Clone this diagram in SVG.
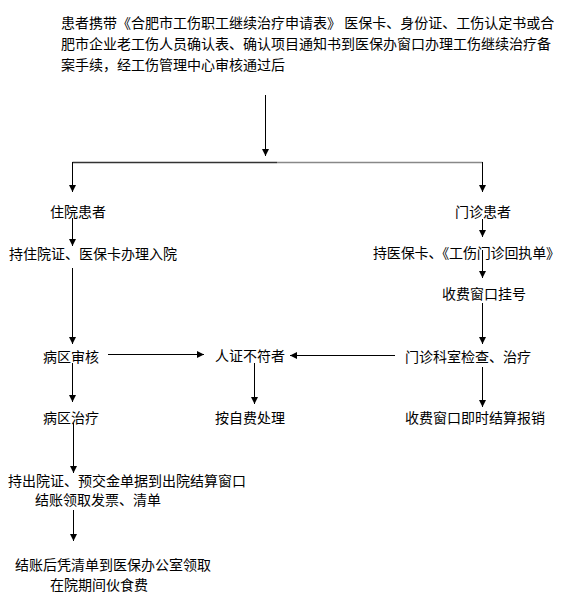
<svg xmlns="http://www.w3.org/2000/svg" width="571" height="601" viewBox="0 0 571 601">
<style>
text{font-family:"Noto Sans CJK SC","Noto Sans",sans-serif;font-size:14px;fill:#000}
.c line{stroke:#000;stroke-width:1;fill:none}
.c line.a{marker-end:url(#ah)}
</style>
<defs>
<marker id="ah" viewBox="0 0 8 8" refX="8" refY="4" markerWidth="7" markerHeight="7" markerUnits="userSpaceOnUse" orient="auto">
<path d="M0,0 L8,4 L0,8 z" fill="#000"/>
</marker>
</defs>
<rect width="571" height="601" fill="#fff"/>
<g id="start">
<text x="61" y="28">患者携带《合肥市工伤职工继续治疗申请表》 医保卡、身份证、工伤认定书或合</text>
<text x="61" y="49">肥市企业老工伤人员确认表、确认项目通知书到医保办窗口办理工伤继续治疗备</text>
<text x="61" y="70">案手续，经工伤管理中心审核通过后</text>
</g>
<g class="c" id="connectors">
<line class="a" x1="265.5" y1="95" x2="265.5" y2="156"/>
<line x1="72.5" y1="162.5" x2="277" y2="162.5" style="stroke:#333;stroke-width:1.5"/>
<line x1="277" y1="162.5" x2="482.5" y2="162.5" style="stroke:#888;stroke-width:1.5"/>
<line class="a" x1="72.5" y1="162" x2="72.5" y2="192"/>
<line class="a" x1="482.5" y1="162" x2="482.5" y2="192"/>
<line class="a" x1="72.5" y1="218" x2="72.5" y2="246"/>
<line class="a" x1="482.5" y1="219" x2="482.5" y2="237"/>
<line class="a" x1="482.5" y1="250" x2="482.5" y2="278"/>
<line class="a" x1="482.5" y1="303" x2="482.5" y2="344"/>
<line class="a" x1="395" y1="355.5" x2="290" y2="355.5"/>
<line class="a" x1="108" y1="354.5" x2="204" y2="354.5"/>
<line class="a" x1="72.5" y1="268" x2="72.5" y2="344"/>
<line class="a" x1="72.5" y1="363" x2="72.5" y2="402"/>
<line class="a" x1="254.5" y1="363" x2="254.5" y2="404"/>
<line class="a" x1="482.5" y1="367" x2="482.5" y2="407"/>
<line class="a" x1="73.5" y1="423" x2="73.5" y2="473"/>
<line class="a" x1="73.5" y1="510" x2="73.5" y2="541"/>
</g>
<g id="inpatient"><text x="50" y="217">住院患者</text></g>
<g id="outpatient"><text x="455" y="217">门诊患者</text></g>
<g id="admit"><text x="9" y="259">持住院证、医保卡办理入院</text></g>
<g id="card"><text x="373" y="258" textLength="187" lengthAdjust="spacing">持医保卡、《工伤门诊回执单》</text></g>
<g id="register"><text x="442" y="299">收费窗口挂号</text></g>
<g id="ward-review"><text x="43" y="362">病区审核</text></g>
<g id="mismatch"><text x="215" y="361">人证不符者</text></g>
<g id="clinic"><text x="405" y="362">门诊科室检查、治疗</text></g>
<g id="ward-treat"><text x="43" y="423">病区治疗</text></g>
<g id="selfpay"><text x="215" y="423">按自费处理</text></g>
<g id="settle"><text x="405" y="423">收费窗口即时结算报销</text></g>
<g id="discharge">
<text x="8" y="486">持出院证、预交金单据到出院结算窗口</text>
<text x="35" y="505">结账领取发票、清单</text>
</g>
<g id="meal">
<text x="15" y="570">结账后凭清单到医保办公室领取</text>
<text x="50" y="590">在院期间伙食费</text>
</g>
</svg>
